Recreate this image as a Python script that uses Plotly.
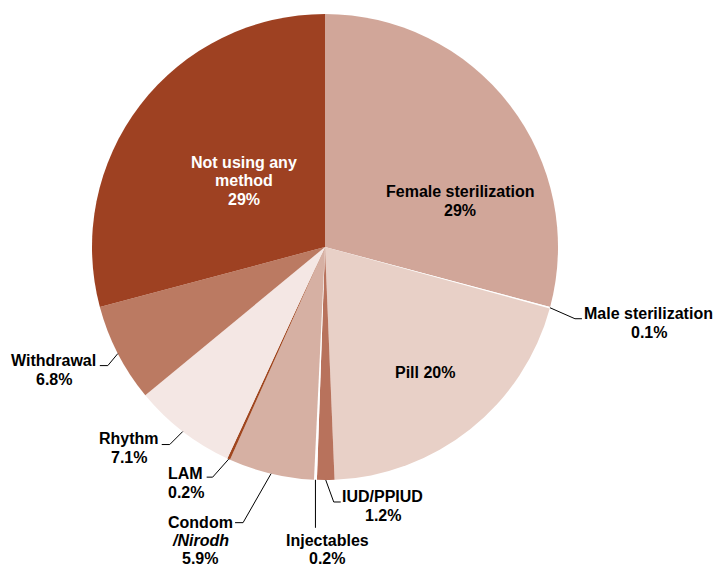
import math
import plotly.graph_objects as go

labels = ["Female sterilization", "Male sterilization", "Pill", "IUD/PPIUD", "Injectables",
          "Condom/Nirodh", "LAM", "Rhythm", "Withdrawal", "Not using any method"]
values = [29, 0.1, 20, 1.2, 0.2, 5.9, 0.2, 7.1, 6.8, 29]
colors = ["#D1A699", "#FFFFFF", "#E8D0C7", "#B8725C", "#FFFFFF",
          "#D6B0A3", "#A0461F", "#F4E7E4", "#BB7A62", "#9E4122"]
label_lines = [["Female sterilization", "29%"], ["Male sterilization", "0.1%"], ["Pill 20%"],
               ["IUD/PPIUD", "1.2%"], ["Injectables", "0.2%"], ["Condom", "<i>/Nirodh</i>", "5.9%"],
               ["LAM", "0.2%"], ["Rhythm", "7.1%"], ["Withdrawal", "6.8%"],
               ["Not using any", "method", "29%"]]

OFF = 0                     # body margin removed via post_script
W, H = 714, 567
CX, CY, R = 325, 247, 233   # in page pixels
FONT = "Liberation Sans, Arial, sans-serif"
FS = 16
LS = 19

def px(x, y):
    return (x - OFF) / W, 1 - (y - OFF) / H

x0, y1 = px(CX - R, CY - R)
x1, y0 = px(CX + R, CY + R)
fig = go.Figure(go.Pie(
    labels=labels, values=values, sort=False, direction="clockwise", rotation=0,
    marker=dict(colors=colors, line=dict(width=0)),
    textinfo="none", hoverinfo="label+value", showlegend=False,
    domain=dict(x=[x0, x1], y=[y0, y1]),
))

total = sum(values)
cum = 0
mids = []
for v in values:
    mids.append((cum + v / 2) / total * 360)
    cum += v

annotations = []

def add_block(i, cx, cy, color, spacing=LS):
    lines = label_lines[i]
    n = len(lines)
    for k, t in enumerate(lines):
        ax, ay = px(cx, cy + (k - (n - 1) / 2) * spacing)
        annotations.append(dict(x=ax, y=ay, xref="paper", yref="paper", text="<b>%s</b>" % t,
                                showarrow=False, xanchor="center", yanchor="middle",
                                font=dict(family=FONT, size=FS, color=color)))

# inside labels (page pixel positions)
add_block(0, 460, 200.5, "black")
add_block(2, 425, 372, "black")
add_block(9, 244, 181, "white", spacing=18.5)

# outside labels: elbow offset, tail length, text-centre offset from tail end
outside = {
    1: ((25, 11), 7, (67, 4.5), LS),
    3: ((8, 22), 7, (42, 4.5), LS),
    4: ((0, 48), 0, (12, 21.5), 18),
    5: ((-28, 49), -8, (-35, 17.5), 18),
    6: ((-16, 18), -6, (-21, 5.5), LS),
    7: ((-13, 13), -8, (-33, 3.5), LS),
    8: ((-10, 12), -8, (-46, 4.5), LS),
}
shapes = []
for i, ((dx, dy), tail, (tx, ty), sp) in outside.items():
    a = math.radians(mids[i])
    ex, ey = CX + R * math.sin(a), CY - R * math.cos(a)
    bx, by = ex + dx, ey + dy
    te_x, te_y = bx + tail, by
    p = [px(ex, ey), px(bx, by), px(te_x, te_y)]
    path = "M %f %f L %f %f L %f %f" % (p[0][0], p[0][1], p[1][0], p[1][1], p[2][0], p[2][1])
    shapes.append(dict(type="path", xref="paper", yref="paper", path=path,
                       line=dict(color="black", width=1)))
    add_block(i, te_x + tx, te_y + ty, "black", spacing=sp)

fig.update_layout(width=W, height=H, margin=dict(l=0, r=0, t=0, b=0),
                  paper_bgcolor="white", plot_bgcolor="white",
                  annotations=annotations, shapes=shapes)
fig.write_html("out.html", config={"displayModeBar": False},
               post_script="document.body.style.margin='0';document.body.style.overflow='hidden';")
